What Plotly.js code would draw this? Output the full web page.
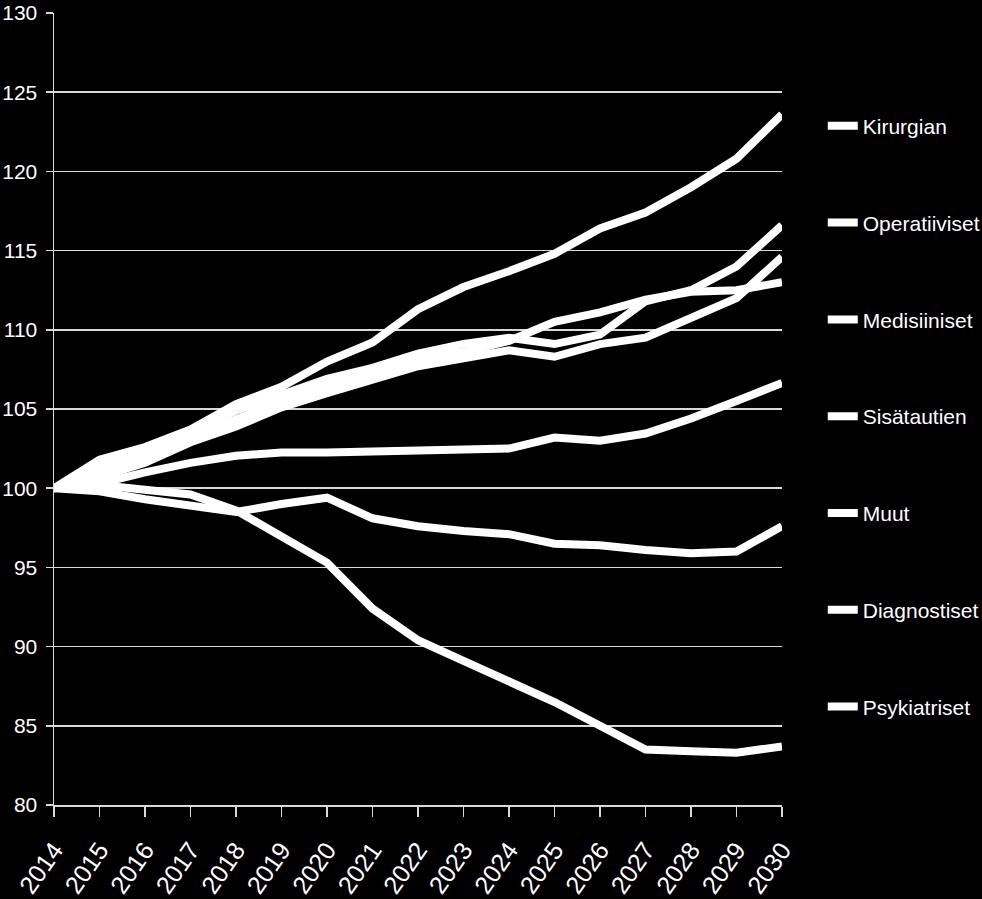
<!DOCTYPE html>
<html>
<head>
<meta charset="utf-8">
<script src="https://cdn.plot.ly/plotly-3.0.1.min.js"></script>
<style>
  html, body { margin: 0; padding: 0; background: #000; }
  #chart { width: 982px; height: 899px; }
</style>
</head>
<body>
<div id="chart"></div>
<script>
const years = [2014, 2015, 2016, 2017, 2018, 2019, 2020, 2021, 2022, 2023, 2024, 2025, 2026, 2027, 2028, 2029, 2030];

const seriesNames = ["Kirurgian", "Operatiiviset", "Medisiiniset", "Sisätautien", "Muut", "Diagnostiset", "Psykiatriset"];

const kirurgian     = [100, 101.8, 102.6, 103.7, 105.3, 106.4, 108.0, 109.2, 111.3, 112.7, 113.7, 114.8, 116.4, 117.4, 119.0, 120.8, 123.6];
const operatiiviset = [100, 101.3, 102.2, 103.5, 104.9, 105.9, 106.9, 107.6, 108.5, 109.1, 109.5, 109.1, 109.7, 111.8, 112.5, 114.0, 116.6];
const medisiiniset  = [100, 100.7, 101.6, 102.9, 103.9, 105.1, 106.0, 106.8, 107.7, 108.2, 108.7, 108.3, 109.1, 109.5, 110.7, 112.0, 114.6];
const sisatautien   = [100, 101.0, 101.9, 103.2, 104.4, 105.5, 106.5, 107.2, 108.1, 108.6, 109.3, 110.5, 111.1, 111.9, 112.4, 112.5, 113.0];
const muut          = [100, 100.3, 101.0, 101.6, 102.05, 102.25, 102.25, 102.3, 102.33, 102.4, 102.5, 103.2, 103.0, 103.45, 104.4, 105.5, 106.65];
const diagnostiset  = [100, 99.8, 99.3, 98.9, 98.5, 99.0, 99.4, 98.1, 97.6, 97.3, 97.1, 96.5, 96.4, 96.1, 95.9, 96.0, 97.6];
const psykiatriset  = [100, 100.2, 99.9, 99.6, 98.6, 97.0, 95.3, 92.4, 90.4, 89.1, 87.8, 86.5, 85.0, 83.5, 83.4, 83.3, 83.7];

const seriesValues = [kirurgian, operatiiviset, medisiiniset, sisatautien, muut, diagnostiset, psykiatriset];

const yTickVals = [80, 85, 90, 95, 100, 105, 110, 115, 120, 125, 130];

const FONT = '"Liberation Sans", Arial, sans-serif';

const traces = seriesNames.map((name, i) => ({
  type: 'scatter',
  mode: 'lines',
  name: name,
  legendgroup: 'g' + i,
  x: years,
  y: seriesValues[i],
  line: { color: '#ffffff', width: 8 },
  hoverinfo: 'x+y+name'
}));

const layout = {
  width: 982,
  height: 899,
  paper_bgcolor: '#000000',
  plot_bgcolor: '#000000',
  margin: { l: 54, r: 200, t: 13, b: 94, autoexpand: false },
  font: { family: FONT, color: '#ffffff', size: 21 },
  showlegend: true,
  legend: {
    x: 1.056, xanchor: 'left',
    y: 0.883, yanchor: 'top',
    bgcolor: 'rgba(0,0,0,0)',
    font: { family: FONT, size: 21, color: '#ffffff' },
    tracegroupgap: 66.5,
    itemwidth: 30
  },
  xaxis: {
    range: [2014, 2030],
    tickmode: 'array',
    tickvals: years,
    ticktext: years.map(String),
    tickangle: -55,
    ticks: 'outside',
    ticklen: 10,
    tickwidth: 1.5,
    tickcolor: '#d9d9d9',
    showgrid: false,
    showline: true,
    linecolor: '#d9d9d9',
    linewidth: 1.5,
    zeroline: false,
    tickfont: { family: FONT, size: 25, color: '#ffffff' },
    ticklabelstandoff: 9,
    ticklabeloverflow: 'allow',
    automargin: false,
    fixedrange: true
  },
  yaxis: {
    range: [80, 130],
    tickmode: 'array',
    tickvals: yTickVals,
    ticks: 'outside',
    ticklen: 7,
    tickwidth: 1.5,
    tickcolor: '#d9d9d9',
    showgrid: true,
    gridcolor: '#d9d9d9',
    gridwidth: 1.5,
    showline: true,
    linecolor: '#d9d9d9',
    linewidth: 1.5,
    zeroline: false,
    tickfont: { family: FONT, size: 21, color: '#ffffff' },
    ticklabelstandoff: 4,
    ticklabeloverflow: 'allow',
    automargin: false,
    fixedrange: true
  }
};

Plotly.newPlot('chart', traces, layout, { displayModeBar: false, staticPlot: true });
</script>
</body>
</html>
